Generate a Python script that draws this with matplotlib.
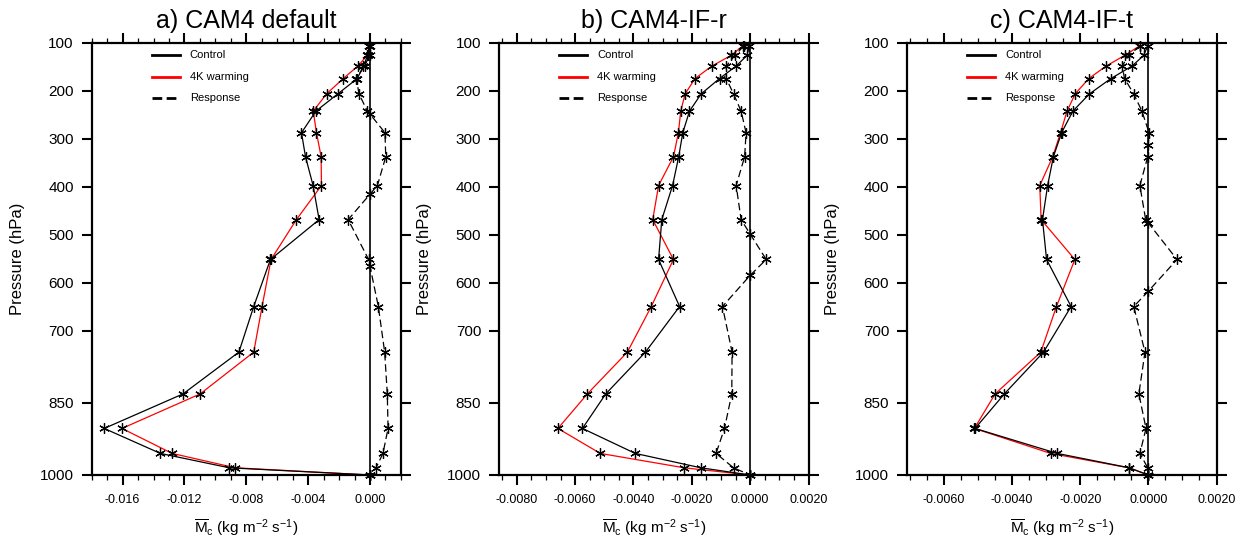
# Vertical profiles of convective mass flux: control, +4K and response
import numpy as np
import matplotlib
matplotlib.use('Agg')
import matplotlib.pyplot as plt
from matplotlib.ticker import MultipleLocator, FormatStrFormatter

plt.rcParams['font.family'] = ['Liberation Sans', 'DejaVu Sans']
plt.rcParams['mathtext.fontset'] = 'custom'
plt.rcParams['mathtext.rm'] = 'Liberation Sans'
plt.rcParams['mathtext.it'] = 'Liberation Sans:italic'
plt.rcParams['mathtext.default'] = 'regular'

# ===== 数据 =====
levels = [106, 126, 148, 174, 206, 242, 287, 337, 397, 468, 551,
          649, 744, 831, 903, 955, 985, 1000]

a_ctrl = [-0.00004, -0.00015, -0.00043, -0.00082, -0.00208, -0.00350, -0.00443, -0.00417,
          -0.00368, -0.00329, -0.00644, -0.00752, -0.00848, -0.01209, -0.01719, -0.01356,
          -0.00910, 0.0]
a_warm = [-0.00005, -0.00019, -0.00078, -0.00173, -0.00281, -0.00367, -0.00346, -0.00316,
          -0.00314, -0.00476, -0.00640, -0.00698, -0.00752, -0.01098, -0.01604, -0.01280,
          -0.00871, 0.0]
a_resp_p = [106, 126, 148, 174, 206, 242, 248, 287, 337, 397, 415, 468, 551, 565,
            649, 744, 831, 903, 955, 985, 1000]
a_resp = [-0.00001, -0.00003, -0.00035, -0.00088, -0.00071, -0.00017, 0.0, 0.00097,
          0.00102, 0.00048, 0.0, -0.00141, -0.00009, 0.0, 0.00054, 0.00095, 0.00112,
          0.00117, 0.00084, 0.00039, 0.0]

b_ctrl = [-0.00003, -0.00011, -0.00048, -0.00105, -0.00168, -0.00208, -0.00231, -0.00245,
          -0.00266, -0.00303, -0.00314, -0.00242, -0.00359, -0.00495, -0.00575, -0.00394,
          -0.00169, 0.0]
b_warm = [-0.00025, -0.00066, -0.00131, -0.00189, -0.00223, -0.00238, -0.00246, -0.00263,
          -0.00314, -0.00334, -0.00263, -0.00339, -0.00421, -0.00558, -0.00659, -0.00514,
          -0.00226, 0.0]
b_resp_p = [106, 126, 148, 174, 206, 242, 287, 337, 397, 468, 498, 551, 584,
            649, 744, 831, 903, 955, 985, 1000]
b_resp = [-0.00022, -0.00052, -0.00082, -0.00082, -0.00057, -0.00031, -0.00014, -0.00019,
          -0.00048, -0.00031, 0.0, 0.00055, 0.0, -0.00095, -0.00062, -0.00063, -0.00088,
          -0.00117, -0.00057, 0.0]

c_ctrl = [-0.00002, -0.00014, -0.00048, -0.00110, -0.00173, -0.00222, -0.00255, -0.00279,
          -0.00296, -0.00311, -0.00299, -0.00227, -0.00308, -0.00423, -0.00509, -0.00268,
          -0.00056, 0.0]
c_warm = [-0.00026, -0.00070, -0.00124, -0.00175, -0.00215, -0.00239, -0.00258, -0.00281,
          -0.00319, -0.00315, -0.00216, -0.00270, -0.00316, -0.00450, -0.00511, -0.00287,
          -0.00058, 0.0]
c_resp_p = [106, 126, 148, 174, 206, 242, 287, 312, 337, 397, 468, 475, 551, 617,
            649, 744, 831, 903, 955, 985, 1000]
c_resp = [-0.00024, -0.00058, -0.00077, -0.00070, -0.00043, -0.00019, 0.00002, 0.0,
          -0.00002, -0.00025, -0.00008, 0.0, 0.00084, 0.0, -0.00043, -0.00010, -0.00028,
          -0.00007, -0.00025, -0.00002, 0.0]

titles = ['a) CAM4 default', 'b) CAM4-IF-r', 'c) CAM4-IF-t']
ptick_vals = [100, 200, 300, 400, 500, 600, 700, 850, 1000]
legend_labels = ['Control', '4K warming', 'Response']

# 每个子图: (x范围, 主刻度间隔, 次刻度间隔, 刻度格式)
xsets = [((-0.018, 0.002), 0.004, 0.001, '%.3f'),
         ((-0.0086, 0.002), 0.002, 0.0005, '%.4f'),
         ((-0.00708, 0.002), 0.002, 0.0005, '%.4f')]
lefts = [91.7, 499.3, 907.3]

W, H = 1242, 540
fig = plt.figure(figsize=(W / 100, H / 100), dpi=100)

panels = [(a_ctrl, a_warm, a_resp_p, a_resp),
          (b_ctrl, b_warm, b_resp_p, b_resp),
          (c_ctrl, c_warm, c_resp_p, c_resp)]

star = (6, 2, 0)
dash = (0, (6, 3))

for i, (ctrl, warm, resp_p, resp) in enumerate(panels):
    ax = fig.add_axes([lefts[i] / W, 1 - 475 / H, 309.2 / W, 432 / H])
    (xlo, xhi), major, minor, fmt = xsets[i]

    ax.axvline(0, color='k', lw=1.2, zorder=1)
    ax.plot(ctrl, levels, color='k', lw=0.9, marker=star, ms=7.5, mec='k', mew=0.9,
            clip_on=False, zorder=3)
    ax.plot(warm, levels, color='red', lw=0.9, marker=star, ms=7.5, mec='k', mew=0.9,
            clip_on=False, zorder=2)
    ax.plot(resp, resp_p, color='k', lw=0.9, ls=dash, marker=star, ms=7.5, mec='k', mew=0.9,
            clip_on=False, zorder=3)

    ax.set_xlim(xlo, xhi)
    ax.set_ylim(1000, 100)
    ax.set_yticks(ptick_vals)
    ax.xaxis.set_major_locator(MultipleLocator(major))
    ax.xaxis.set_minor_locator(MultipleLocator(minor))
    ax.xaxis.set_major_formatter(FormatStrFormatter(fmt))

    for s in ax.spines.values():
        s.set_linewidth(1.6)
    ax.tick_params(which='both', direction='out', top=True, right=True,
                   labeltop=False, labelright=False)
    ax.tick_params(which='major', length=7, width=1.5)
    ax.tick_params(which='minor', length=3.5, width=0.9)
    ax.tick_params(axis='x', labelsize=9, pad=7)
    ax.tick_params(axis='y', labelsize=11, pad=6)

    ax.set_title(titles[i], fontsize=18, pad=11)
    ax.set_ylabel('Pressure (hPa)', fontsize=12)
    ax.yaxis.set_label_coords(-0.217, 0.5)
    ax.set_xlabel(r'$\overline{M}_{c}$ (kg m$^{-2}$ s$^{-1}$)', fontsize=11)
    ax.xaxis.set_label_coords(0.5, -0.097)

    # 图例
    x0, x1, xt = 60 / 309, 88 / 309, 98 / 309
    for k, (lab, col, ls) in enumerate(zip(legend_labels, ['k', 'red', 'k'],
                                           ['-', '-', (0, (3.5, 1.6))])):
        yy = 1 - (12 + 21.7 * k) / 432
        ax.plot([x0, x1], [yy, yy], transform=ax.transAxes, color=col, lw=2, ls=ls)
        ax.text(xt, yy, lab, transform=ax.transAxes, fontsize=8, va='center', ha='left')

fig.savefig('out.png', dpi=100)
